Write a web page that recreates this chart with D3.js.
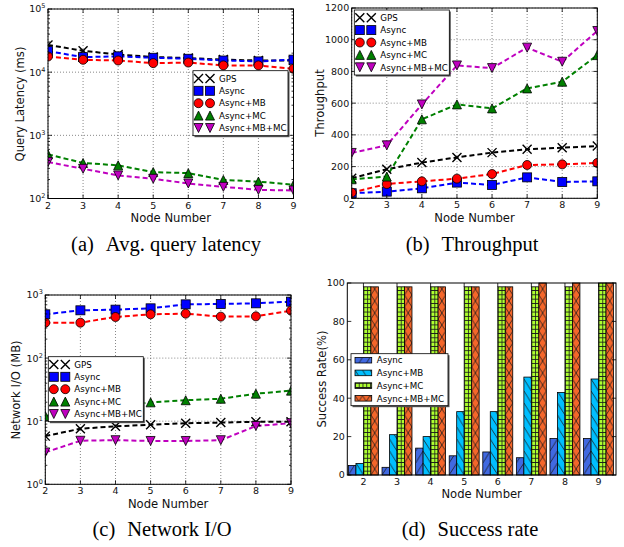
<!DOCTYPE html>
<html lang="en">
<head>
<meta charset="UTF-8">
<title>Async evaluation figures</title>
<script src="https://d3js.org/d3.v7.min.js"></script>
<style>
  body { margin: 0; background: #fff; }
  svg { display: block; font-family: "DejaVu Sans", sans-serif; }
  .tick { font-size: 9.5px; fill: #111; }
  .axlabel { font-size: 11.6px; fill: #111; }
  .leg { font-size: 8.7px; fill: #000; }
  .caption { font-family: "Liberation Serif", serif; font-size: 20.5px; fill: #000; }
</style>
</head>
<body>
<script>
// ---- data ----
var nodes = [2, 3, 4, 5, 6, 7, 8, 9];
var lineNames = ["GPS", "Async", "Async+MB", "Async+MC", "Async+MB+MC"];
var barNames = ["Async", "Async+MB", "Async+MC", "Async+MB+MC"];

// (a) average query latency, ms
var latGPS  = [27000, 21800, 19000, 17400, 16700, 15800, 15300, 15300];
var latAsync = [21500, 17300, 17800, 16900, 16300, 15300, 14800, 15800];
var latMB   = [17700, 15700, 15300, 13900, 14200, 12800, 12800, 11300];
var latMC   = [500, 365, 335, 262, 252, 197, 185, 165];
var latMBMC = [377, 295, 232, 205, 173, 153, 137, 134];

// (b) throughput
var tpGPS   = [126, 183, 225, 258, 288, 309, 319, 330];
var tpAsync = [32, 42, 63, 99, 84, 132, 103, 107];
var tpMB    = [36, 90, 107, 124, 153, 210, 214, 223];
var tpMC    = [120, 137, 498, 592, 567, 693, 735, 903];
var tpMBMC  = [286, 334, 592, 838, 821, 950, 861, 1055];

// (c) network I/O, MB
var ioGPS   = [5.8, 7.6, 8.3, 8.8, 9.3, 9.5, 9.8, 9.8];
var ioAsync = [494, 572, 586, 615, 711, 720, 738, 784];
var ioMB    = [364, 364, 448, 494, 506, 454, 459, 565];
var ioMC    = [12.1, 15, 17, 19.9, 21.5, 22.7, 27.3, 30.5];
var ioMBMC  = [3.2, 4.9, 5.0, 4.86, 4.86, 5.0, 8.4, 9.3];

// (d) success rate, %
var srAsync = [5, 4, 14, 10, 12, 9, 19, 19];
var srMB    = [6, 21, 20, 33, 33, 51, 43, 50];
var srMC    = [98, 98, 98, 98, 98, 98, 98, 100];
var srMBMC  = [98, 98, 98, 98, 98, 100, 100, 100];

var w = 624, h = 547;
var svg = d3.select("body").append("svg").attr("width", w).attr("height", h);
var defs = svg.append("defs");

var lineColors = ["#000000", "#0000ff", "#ff0000", "#008000", "#bf00bf"];
var lineMarkers = ["x", "square", "circle", "up", "down"];
var barColors = ["#4169e1", "#00bfff", "#adff2f", "#f4662a"];
var barHatch = ["fwd", "back", "grid", "cross"];

function drawMarker(g, type, x, y, color) {
    var s = 4.5;
    if (type === "x") {
        g.append("path").attr("d", "M" + (x - s) + "," + (y - s) + "L" + (x + s) + "," + (y + s) +
            "M" + (x - s) + "," + (y + s) + "L" + (x + s) + "," + (y - s))
            .attr("stroke", color).attr("stroke-width", 1.4).attr("fill", "none");
    } else if (type === "square") {
        g.append("rect").attr("x", x - s).attr("y", y - s).attr("width", 2 * s).attr("height", 2 * s)
            .attr("fill", color).attr("stroke", "#000").attr("stroke-width", 0.8);
    } else if (type === "circle") {
        g.append("circle").attr("cx", x).attr("cy", y).attr("r", s)
            .attr("fill", color).attr("stroke", "#000").attr("stroke-width", 0.8);
    } else {
        var d = type === "up"
            ? [[x, y - s], [x + s, y + s], [x - s, y + s]]
            : [[x, y + s], [x + s, y - s], [x - s, y - s]];
        g.append("path").attr("d", "M" + d.join("L") + "Z")
            .attr("fill", color).attr("stroke", "#000").attr("stroke-width", 0.8);
    }
}

function logLabel(t, v) {
    t.append("tspan").text("10");
    t.append("tspan").attr("dy", -4).attr("font-size", "6.5px").text(Math.round(Math.log10(v)));
}

function frameAndTicks(g, p, x, xTicks, y, yMajor, yMinor) {
    g.append("rect").attr("x", p.l).attr("y", p.t).attr("width", p.r - p.l).attr("height", p.b - p.t)
        .attr("fill", "none").attr("stroke", "#000").attr("stroke-width", 1);
    var tk = g.append("g").attr("stroke", "#000").attr("stroke-width", 0.8);
    xTicks.forEach(function(v) {
        tk.append("line").attr("x1", x(v)).attr("x2", x(v)).attr("y1", p.b).attr("y2", p.b - 4);
        tk.append("line").attr("x1", x(v)).attr("x2", x(v)).attr("y1", p.t).attr("y2", p.t + 4);
    });
    yMajor.forEach(function(v) {
        tk.append("line").attr("x1", p.l).attr("x2", p.l + 4).attr("y1", y(v)).attr("y2", y(v));
        tk.append("line").attr("x1", p.r).attr("x2", p.r - 4).attr("y1", y(v)).attr("y2", y(v));
    });
    yMinor.forEach(function(v) {
        tk.append("line").attr("x1", p.l).attr("x2", p.l + 2).attr("y1", y(v)).attr("y2", y(v));
        tk.append("line").attr("x1", p.r).attr("x2", p.r - 2).attr("y1", y(v)).attr("y2", y(v));
    });
    xTicks.forEach(function(v) {
        g.append("text").attr("class", "tick").attr("x", x(v)).attr("y", p.b + 10)
            .attr("text-anchor", "middle").text(v);
    });
    yMajor.forEach(function(v) {
        var t = g.append("text").attr("class", "tick").attr("x", p.l - 2.5).attr("y", y(v) + 3.4)
            .attr("text-anchor", "end");
        if (p.log) logLabel(t, v); else t.text(v);
    });
    g.append("text").attr("class", "axlabel").attr("x", (p.l + p.r) / 2).attr("y", p.xlabelY)
        .attr("text-anchor", "middle").text("Node Number");
    g.append("text").attr("class", "axlabel").attr("text-anchor", "middle").attr("dy", "0.35em")
        .attr("transform", "translate(" + p.ylabelX + "," + p.ylabelCY + ") rotate(-90)")
        .text(p.ylabel);
    var c = g.append("text").attr("class", "caption").attr("x", p.capX).attr("y", p.capY)
        .attr("text-anchor", "middle");
    c.append("tspan").text(p.caption[0]);
    c.append("tspan").attr("dx", 12).text(p.caption[1]);
}

function linePanel(p) {
    var g = svg.append("g");
    var x = d3.scaleLinear().domain([2, 9]).range([p.l, p.r]);
    var y = p.y.range([p.b, p.t]);
    var minor = p.log ? y.ticks().filter(function(v) { return p.major.indexOf(v) < 0; }) : [];

    // dotted grid
    var grid = g.append("g").attr("stroke", "#555").attr("stroke-width", 0.7).attr("stroke-dasharray", "1,2");
    nodes.forEach(function(v) {
        grid.append("line").attr("x1", x(v)).attr("x2", x(v)).attr("y1", p.t).attr("y2", p.b);
    });
    p.major.forEach(function(v) {
        grid.append("line").attr("x1", p.l).attr("x2", p.r).attr("y1", y(v)).attr("y2", y(v));
    });

    defs.append("clipPath").attr("id", p.id).append("rect")
        .attr("x", p.l).attr("y", p.t).attr("width", p.r - p.l).attr("height", p.b - p.t);
    var plot = g.append("g").attr("clip-path", "url(#" + p.id + ")");
    var line = d3.line().x(function(d, i) { return x(nodes[i]); }).y(function(d) { return y(d); });

    p.series.forEach(function(s, k) {
        plot.append("path").attr("d", line(s)).attr("fill", "none")
            .attr("stroke", lineColors[k]).attr("stroke-width", 2).attr("stroke-dasharray", "5,3");
    });
    p.series.forEach(function(s, k) {
        s.forEach(function(v, i) { drawMarker(plot, lineMarkers[k], x(nodes[i]), y(v), lineColors[k]); });
    });

    frameAndTicks(g, p, x, nodes, y, p.major, minor);

    // legend
    var lx = p.legend[0], ly = p.legend[1];
    var lg = g.append("g");
    lg.append("rect").attr("x", lx + 1.5).attr("y", ly + 1.5).attr("width", 95).attr("height", 65).attr("fill", "#555");
    lg.append("rect").attr("x", lx).attr("y", ly).attr("width", 95).attr("height", 65)
        .attr("fill", "#fff").attr("stroke", "#000").attr("stroke-width", 0.8);
    lineNames.forEach(function(name, k) {
        var cy = ly + 7.7 + 12.4 * k;
        drawMarker(lg, lineMarkers[k], lx + 5.5, cy, lineColors[k]);
        drawMarker(lg, lineMarkers[k], lx + 17, cy, lineColors[k]);
        lg.append("text").attr("class", "leg").attr("x", lx + 26).attr("y", cy + 3.2).text(name);
    });
}

function hatch(id, type, color, x0, y0) {
    var bw = 7.5, pat = defs.append("pattern").attr("id", id).attr("patternUnits", "userSpaceOnUse")
        .attr("x", x0).attr("y", y0);
    var pw = type === "grid" ? bw / 2 : bw, ph = type === "grid" ? 4.3 : 12;
    pat.attr("width", pw).attr("height", ph);
    pat.append("rect").attr("width", pw).attr("height", ph).attr("fill", color);
    var ln = pat.append("g").attr("stroke", "#1a1a1a").attr("stroke-width", 0.8).attr("fill", "none");
    if (type === "fwd" || type === "cross") ln.append("path").attr("d", "M0," + ph + "L" + pw + ",0");
    if (type === "back" || type === "cross") ln.append("path").attr("d", "M0,0L" + pw + "," + ph);
    if (type === "grid") {
        ln.attr("stroke-width", 1.6);
        ln.append("path").attr("d", "M0,0L" + pw + ",0M0,0L0," + ph);
    }
    return "url(#" + id + ")";
}

function barPanel(p) {
    var g = svg.append("g");
    var x = d3.scaleLinear().domain([1.52, 9.52]).range([p.l, p.r]);
    var y = d3.scaleLinear().domain([0, 100]).range([p.b, p.t]);
    var bw = x(1.52 + 0.223) - x(1.52);
    var series = [srAsync, srMB, srMC, srMBMC];

    series.forEach(function(s, k) {
        s.forEach(function(v, i) {
            var bx = x(nodes[i]) + (k - 2) * bw;
            g.append("rect").attr("x", bx).attr("y", y(v)).attr("width", bw).attr("height", y(0) - y(v))
                .attr("fill", hatch("hb" + k + "_" + i, barHatch[k], barColors[k], bx, p.b))
                .attr("stroke", "#000").attr("stroke-width", 0.8);
        });
    });

    frameAndTicks(g, p, x, nodes, y, d3.range(0, 101, 20), []);

    var lx = p.legend[0], ly = p.legend[1];
    var lg = g.append("g");
    lg.append("rect").attr("x", lx + 1.5).attr("y", ly + 1.5).attr("width", 97).attr("height", 52).attr("fill", "#555");
    lg.append("rect").attr("x", lx).attr("y", ly).attr("width", 97).attr("height", 52)
        .attr("fill", "#fff").attr("stroke", "#000").attr("stroke-width", 0.8);
    barNames.forEach(function(name, k) {
        var cy = ly + 6.5 + 12.7 * k;
        lg.append("rect").attr("x", lx + 4).attr("y", cy - 2.8).attr("width", 16.7).attr("height", 5.6)
            .attr("fill", hatch("hl" + k, barHatch[k], barColors[k], lx + 4, cy - 2.8))
            .attr("stroke", "#000").attr("stroke-width", 0.8);
        lg.append("text").attr("class", "leg").attr("x", lx + 25.7).attr("y", cy + 3.2).text(name);
    });
}

linePanel({
    id: "clipA", l: 48, r: 293.5, t: 9, b: 198.5,
    y: d3.scaleLog().domain([100, 100000]), log: true, major: [1e2, 1e3, 1e4, 1e5],
    series: [latGPS, latAsync, latMB, latMC, latMBMC], legend: [193, 70.7],
    ylabel: "Query Latency (ms)", ylabelX: 20, ylabelCY: 104, xlabelY: 222,
    caption: ["(a)", "Avg. query latency"], capX: 166, capY: 251
});

linePanel({
    id: "clipB", l: 351.7, r: 597.3, t: 8, b: 198.3,
    y: d3.scaleLinear().domain([0, 1200]), log: false, major: d3.range(0, 1201, 200),
    series: [tpGPS, tpAsync, tpMB, tpMC, tpMBMC], legend: [354.3, 10],
    ylabel: "Throughput", ylabelX: 320, ylabelCY: 103, xlabelY: 222,
    caption: ["(b)", "Throughput"], capX: 472, capY: 251
});

linePanel({
    id: "clipC", l: 45.3, r: 291, t: 295, b: 484.3,
    y: d3.scaleLog().domain([1, 1000]), log: true, major: [1, 10, 100, 1000],
    series: [ioGPS, ioAsync, ioMB, ioMC, ioMBMC], legend: [48.3, 356.7],
    ylabel: "Network I/O (MB)", ylabelX: 16, ylabelCY: 390, xlabelY: 508,
    caption: ["(c)", "Network I/O"], capX: 162, capY: 536
});

barPanel({
    l: 347.3, r: 616, t: 283, b: 475, log: false, legend: [351, 353.7],
    ylabel: "Success Rate(%)", ylabelX: 322, ylabelCY: 379, xlabelY: 498,
    caption: ["(d)", "Success rate"], capX: 470, capY: 536
});
</script>
</body>
</html>
